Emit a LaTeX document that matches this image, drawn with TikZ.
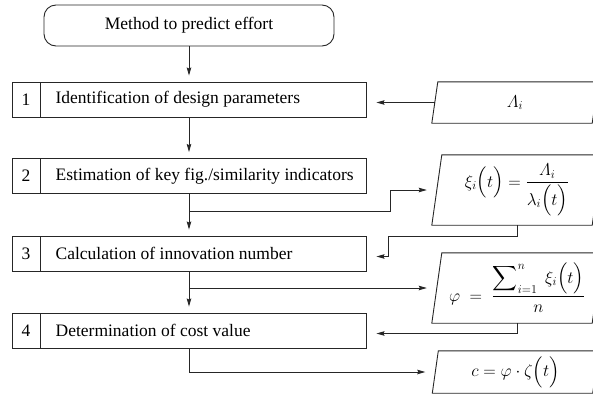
\documentclass[tikz,border=0pt]{standalone}
\usepackage{amsmath}
\usepackage{fontspec}
\setmainfont{Liberation Serif}
\usetikzlibrary{arrows.meta}
\newcommand\paraoutline[2]{\draw[line] ([xshift=-#2]#1.south west) -- ([xshift=#2]#1.north west) -- ([xshift=#2]#1.north east) -- ([xshift=-#2]#1.south east) -- cycle;}
\begin{document}
\begin{tikzpicture}[x=1pt,y=-1pt,
  font=\fontsize{17.5pt}{21pt}\selectfont,
  line/.style={draw=black!85, line width=0.9pt},
  box/.style={line, rectangle, minimum width=354pt, minimum height=35pt, inner sep=0pt},
  numcell/.style={line, rectangle, minimum width=28pt, minimum height=35pt, inner sep=0pt, anchor=west},
  lbl/.style={anchor=west, inner sep=0pt},
  para/.style={rectangle, minimum width=160pt, inner sep=0pt},
  arr/.style={line, -{Stealth[length=8pt,width=4.5pt,inset=1pt]}, shorten >=10pt},
  varr/.style={arr, shorten >=6pt}
]
\clip (0,0) rectangle (593,394);
% start
\node[line, rounded corners=12pt, minimum width=290pt, minimum height=41pt] (start) at (189,25.5) {Method to predict effort};
% process boxes
\node[box] (b1) at (189,99.5) {};
\node[box] (b2) at (189,176) {};
\node[box] (b3) at (189,253.5) {};
\node[box] (b4) at (189,330.5) {};
\node[numcell] (n1) at (b1.west) {1};
\node[numcell] (n2) at (b2.west) {2};
\node[numcell] (n3) at (b3.west) {3};
\node[numcell] (n4) at (b4.west) {4};
\node[lbl] (t1) at ([xshift=15pt]n1.east) {Identification of design parameters};
\node[lbl] (t2) at ([xshift=15pt]n2.east) {Estimation of key fig./similarity indicators};
\node[lbl] (t3) at ([xshift=15pt]n3.east) {Calculation of innovation number};
\node[lbl] (t4) at ([xshift=15pt]n4.east) {Determination of cost value};
% data parallelograms
\node[para, minimum height=41pt] (L) at (515,102.5) {$\varLambda_i$};
\node[para, minimum height=70pt] (X) at (517,190) {$\xi_i\Bigl(t\Bigr)=\dfrac{\varLambda_i}{\lambda_i\Bigl(t\Bigr)}$};
\node[para, minimum height=70pt] (P) at (517,288) {$\varphi\;=\;\dfrac{\displaystyle\sum\nolimits_{i=1}^{n}\;\xi_i\Bigl(t\Bigr)}{n}$};
\node[para, minimum height=42pt] (C) at (515.5,372) {$c=\varphi\cdot\zeta\Bigl(t\Bigr)$};
\paraoutline{L}{3pt}
\paraoutline{X}{5pt}
\paraoutline{P}{5pt}
\paraoutline{C}{3pt}
% connectors
\coordinate (j2) at (189,211);
\coordinate (k2) at (390,190);
\coordinate (m3) at (388,236);
\coordinate (j3) at (189,288);
\draw[varr] (start) -- (b1);
\draw[varr] (b1) -- (b2);
\draw[varr] (b2) -- (b3);
\draw[varr] (b3) -- (b4);
\draw[arr] (L.west) -- (b1.east |- L.west);
\draw[arr] (j2) -| (k2) -- (X);
\draw[arr] (X.south) |- (m3) |- ([yshift=-3pt]b3.east);
\draw[arr] (j3) -- (P);
\draw[arr] (P.south) |- ([yshift=-3pt]b4.east);
\draw[arr] (b4.south) |- (C.west);
\end{tikzpicture}
\end{document}
